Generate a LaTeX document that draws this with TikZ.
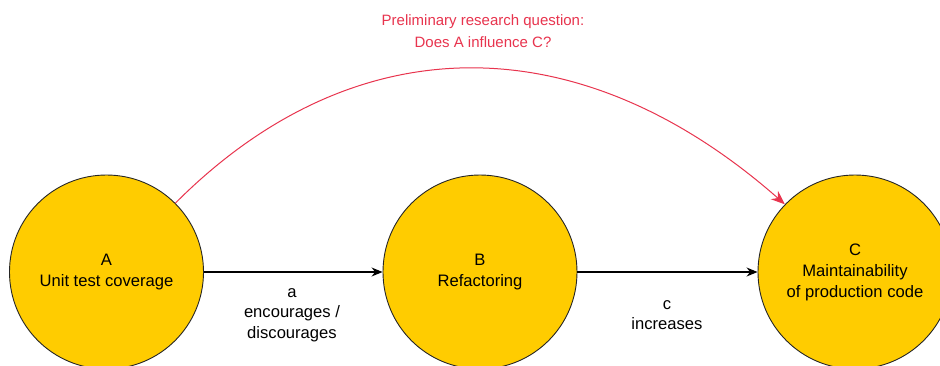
\documentclass[tikz,border=0pt]{standalone}
\usepackage{fontspec}
\setmainfont{Liberation Sans}
\usetikzlibrary{arrows.meta}
\definecolor{circfill}{RGB}{255,204,0}
\definecolor{qred}{RGB}{232,52,78}
\begin{document}
\begin{tikzpicture}[x=1pt,y=-1pt,
  circ/.style={circle,draw=black!85,line width=0.9pt,fill=circfill,minimum size=194pt,inner sep=0pt,align=center,font=\fontsize{16.6}{21}\selectfont},
  lbl/.style={align=center,font=\fontsize{16.6}{20.5}\selectfont},
  conn/.style={line width=1.2pt,-{Stealth[length=11pt,width=9pt]}}]
\useasboundingbox (0,0) rectangle (940,365);
\clip (0,0) rectangle (940,365);
\fill[white] (0,0) rectangle (940,365);
\node[circ] (A) at (106.5,272) {A\\Unit test coverage};
\node[circ] (B) at (480,272) {B\\Refactoring};
\node[circ] (C) at (855,272) {C\\Maintainability\\of production code};
\draw[conn] (A) -- (B);
\draw[conn] (B) -- (C);
\node[lbl] (la) at (292,315) {a\\encourages /\\discourages};
\node[lbl] (lc) at (667,315) {c\\increases};
\node[lbl,text=qred,font=\fontsize{15}{22}\selectfont] (q) at (483,31) {Preliminary research question:\\Does A influence C?};
\draw[line width=1pt,draw=qred,-{Stealth[length=14pt,width=11pt]}] (A.45) .. controls (355,23) and (580,24) .. (C.136);
\end{tikzpicture}
\end{document}
